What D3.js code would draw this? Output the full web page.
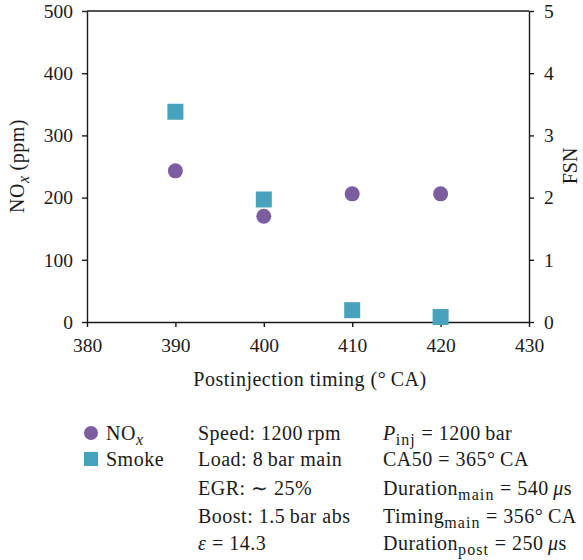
<!DOCTYPE html>
<html>
<head>
<meta charset="utf-8">
<script src="https://cdn.jsdelivr.net/npm/d3@7"></script>
<style>
  html, body { margin: 0; padding: 0; background: #fff; }
  svg { display: block; }
  text { font-family: "Liberation Serif", "Times New Roman", serif; fill: #1a1a1a; }
</style>
</head>
<body>
<svg id="chart" width="583" height="560"></svg>
<script>
// ---- data ----
const timing = [390, 400, 410, 420];
const noxValues = [243, 170, 206, 206];      // ppm (left axis)
const smokeValues = [3.38, 1.97, 0.19, 0.08]; // FSN (right axis)
const xTicks = [380, 390, 400, 410, 420, 430];
const yLeftTicks = [0, 100, 200, 300, 400, 500];
const yRightTicks = [0, 1, 2, 3, 4, 5];
const xTitle = "Postinjection timing (°\u2009CA)";
const rightTitle = "FSN";
const conditionsLeft = [
  [{t: "Speed: 1200\u2009rpm"}],
  [{t: "Load: 8\u2009bar main"}],
  [{t: "EGR: \u223C 25%"}],
  [{t: "Boost: 1.5\u2009bar abs"}],
  [{t: "\u03B5", i: true}, {t: " = 14.3"}]
];
const conditionsRight = [
  [{t: "P", i: true}, {t: "inj", sub: true}, {t: " = 1200\u2009bar"}],
  [{t: "CA50 = 365°\u2009CA"}],
  [{t: "Duration"}, {t: "main", sub: true}, {t: " = 540\u2009"}, {t: "\u03BC", i: true}, {t: "s"}],
  [{t: "Timing"}, {t: "main", sub: true}, {t: " = 356°\u2009CA"}],
  [{t: "Duration"}, {t: "post", sub: true}, {t: " = 250\u2009"}, {t: "\u03BC", i: true}, {t: "s"}]
];
const legendItems = [
  {label: [{t: "NO"}, {t: "x", sub: true, i: true}], shape: "circle"},
  {label: [{t: "Smoke"}], shape: "square"}
];

// ---- style ----
const purple = "#7b5e9f";
const teal = "#47a3bc";
const axisColor = "#1a1a1a";
const serif = "'Liberation Serif', 'Times New Roman', serif";
const textSize = 20;
const spacing = "0.5px";

const svg = d3.select("#chart");
const x = d3.scaleLinear().domain([380, 430]).range([87, 529]);
const yL = d3.scaleLinear().domain([0, 500]).range([322, 11]);
const yR = d3.scaleLinear().domain([0, 5]).range([322, 11]);

function styleAxis(g, size) {
  g.attr("font-family", null).attr("font-size", null);
  g.selectAll("path").attr("stroke", axisColor).attr("stroke-width", 1.4);
  g.selectAll("line").attr("stroke", axisColor).attr("stroke-width", 1.4);
  g.selectAll("text")
    .style("font-family", serif).style("font-size", size + "px").style("fill", "#1a1a1a");
}

// top spine
svg.append("line").attr("x1", x(380)).attr("x2", x(430)).attr("y1", yL(500)).attr("y2", yL(500))
  .attr("stroke", axisColor).attr("stroke-width", 1.4);

svg.append("g").attr("transform", `translate(0,${yL(0)})`)
  .call(d3.axisBottom(x).tickValues(xTicks).tickFormat(d3.format("d")).tickSize(5).tickSizeOuter(0).tickPadding(11))
  .call(g => styleAxis(g, 19.5));

svg.append("g").attr("transform", `translate(${x(380)},0)`)
  .call(d3.axisLeft(yL).tickValues(yLeftTicks).tickFormat(d3.format("d")).tickSize(5).tickSizeOuter(0).tickPadding(9))
  .call(g => styleAxis(g, 19.5));

svg.append("g").attr("transform", `translate(${x(430)},0)`)
  .call(d3.axisRight(yR).tickValues(yRightTicks).tickFormat(d3.format("d")).tickSize(5).tickSizeOuter(0).tickPadding(10))
  .call(g => styleAxis(g, 19.5));

// rich text helper
function rich(sel, parts) {
  let shifted = 0;
  parts.forEach(p => {
    const ts = sel.append("tspan").text(p.t);
    if (p.i) ts.style("font-style", "italic");
    if (p.sub) {
      ts.style("font-size", "0.8em").style("letter-spacing", "1.1px");
      if (shifted === 0) { ts.attr("dy", 5); shifted = 5; }
    } else if (shifted) {
      ts.attr("dy", -shifted); shifted = 0;
    }
  });
}

function label(xp, yp, transform) {
  const t = svg.append("text")
    .style("font-family", serif).style("font-size", textSize + "px").style("letter-spacing", spacing);
  if (transform) t.attr("transform", transform); else t.attr("x", xp).attr("y", yp);
  return t;
}

// axis titles
const yTitle = label(0, 0, "translate(24,166) rotate(-90)").attr("text-anchor", "middle");
rich(yTitle, [{t: "NO"}, {t: "x", sub: true, i: true}, {t: "\u2009(ppm)"}]);

label(0, 0, "translate(577,166) rotate(-90)").attr("text-anchor", "middle").style("letter-spacing", "0px").text(rightTitle);

label(310, 386).attr("text-anchor", "middle").text(xTitle);

// data marks
const pts = timing.map((t, i) => ({t, nox: noxValues[i], smoke: smokeValues[i]}));
const sq = 16;
svg.append("g").selectAll("rect").data(pts).join("rect")
  .attr("x", d => x(d.t) - sq / 2).attr("y", d => yR(d.smoke) - sq / 2)
  .attr("width", sq).attr("height", sq).attr("fill", teal);
svg.append("g").selectAll("circle").data(pts).join("circle")
  .attr("cx", d => x(d.t)).attr("cy", d => yL(d.nox)).attr("r", 7.5).attr("fill", purple);

// legend
const rowBase = [440, 466, 495, 523, 550];
legendItems.forEach((item, i) => {
  const cy = rowBase[i] - 7;
  if (item.shape === "circle") {
    svg.append("circle").attr("cx", 91).attr("cy", cy).attr("r", 7).attr("fill", purple);
  } else {
    svg.append("rect").attr("x", 84).attr("y", cy - 7).attr("width", 14).attr("height", 14).attr("fill", teal);
  }
  rich(label(106, rowBase[i]), item.label);
});

conditionsLeft.forEach((parts, i) => rich(label(198, rowBase[i]), parts));
conditionsRight.forEach((parts, i) => rich(label(383, rowBase[i]), parts));
</script>
</body>
</html>
